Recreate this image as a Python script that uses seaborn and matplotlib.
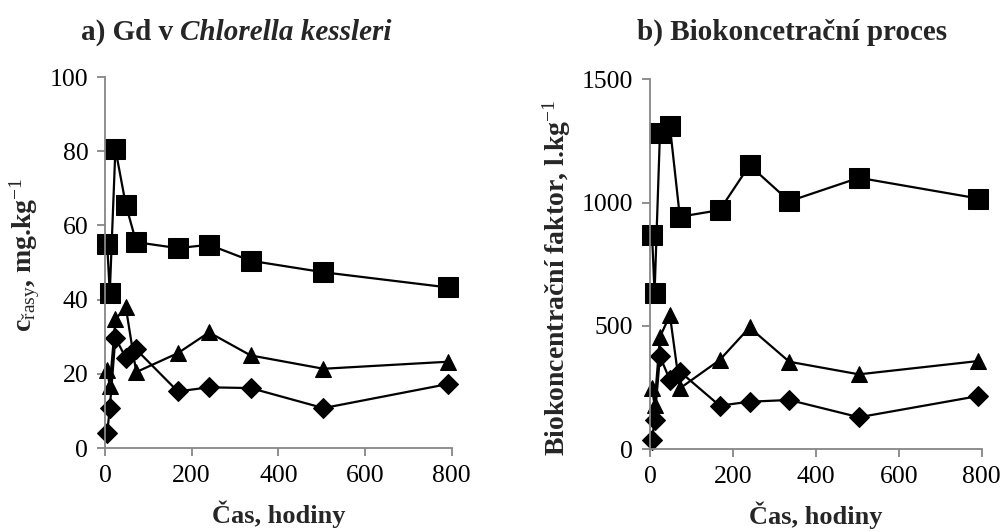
import matplotlib
matplotlib.use("Agg")
import matplotlib.pyplot as plt
import seaborn as sns
import pandas as pd

# ---- data ----
times = [5, 11, 24, 48, 72, 168, 240, 336, 504, 792]
left_sq = [55.0, 41.8, 80.6, 65.6, 55.5, 53.9, 54.8, 50.5, 47.4, 43.3]
left_tri = [21.2, 16.7, 34.7, 38.0, 20.5, 25.6, 31.2, 25.0, 21.4, 23.3]
left_dia = [4.0, 10.8, 29.8, 24.3, 26.6, 15.3, 16.4, 16.2, 10.8, 17.3]
right_sq = [869, 632, 1281, 1310, 943, 970, 1152, 1006, 1101, 1017]
right_tri = [247, 180, 456, 544, 247, 362, 494, 355, 304, 358]
right_dia = [38, 119, 377, 281, 315, 177, 193, 200, 130, 216]
x_ticks = [0, 200, 400, 600, 800]
left_yticks = [0, 20, 40, 60, 80, 100]
right_yticks = [0, 500, 1000, 1500]

sns.set_style("white")
plt.rcParams['font.family'] = ['Liberation Serif', 'DejaVu Serif']
plt.rcParams['mathtext.fontset'] = 'custom'
plt.rcParams['mathtext.rm'] = 'Liberation Serif'
plt.rcParams['mathtext.it'] = 'Liberation Serif:italic'
plt.rcParams['mathtext.bf'] = 'Liberation Serif:bold'

W, H = 1002, 532
fig = plt.figure(figsize=(W / 100, H / 100), dpi=100)
axL = fig.add_axes([105 / W, 1 - 448.2 / H, (451.7 - 105) / W, (448.2 - 77) / H])
axR = fig.add_axes([650 / W, 1 - 449.3 / H, (981.7 - 650) / W, (449.3 - 79.4) / H])

AX_GRAY = '#868686'

def draw(ax, sq, tri, dia):
    styles = [(sq, 's', 14.5), (tri, '^', 11), (dia, 'D', 10)]
    for vals, mk, ms in styles:
        df = pd.DataFrame({'t': times, 'v': vals})
        sns.lineplot(data=df, x='t', y='v', ax=ax, color='black', lw=1.6,
                     marker=mk, markersize=ms, markeredgecolor='black',
                     markerfacecolor='black', estimator=None, sort=False,
                     clip_on=False)
    for s in ['top', 'right']:
        ax.spines[s].set_visible(False)
    for s in ['left', 'bottom']:
        ax.spines[s].set_color(AX_GRAY)
        ax.spines[s].set_linewidth(1.3)
    ax.tick_params(axis='both', which='both', direction='out', length=6,
                   width=1.3, color=AX_GRAY, labelsize=18.5, labelcolor='black',
                   pad=6, left=True, bottom=True)
    ax.set_xlim(0, 800)
    ax.set_xticks(x_ticks)
    ax.set_xlabel('Čas, hodiny', fontsize=19, fontweight='bold', labelpad=10)

draw(axL, left_sq, left_tri, left_dia)
draw(axR, right_sq, right_tri, right_dia)

axL.set_ylim(0, 100)
axL.set_yticks(left_yticks)
axR.set_ylim(0, 1500)
axR.set_yticks(right_yticks)

axL.set_ylabel(r'c$_{\mathrm{řasy}}$, mg.kg$^{\mathrm{-1}}$', fontsize=20,
               fontweight='bold')
axR.set_ylabel(r'Biokoncentrační faktor, l.kg$^{\mathrm{-1}}$', fontsize=20,
               fontweight='bold')
axL.yaxis.set_label_coords((42 - 105) / 346.7, 0.52)
axR.yaxis.set_label_coords((573 - 650) / 331.7, 0.463)

# titles
def title(parts, xc, yc):
    fig.canvas.draw()
    r = fig.canvas.get_renderer()
    texts = []
    widths = []
    for s, style in parts:
        t = fig.text(0, yc, s, fontsize=21, fontweight='bold', fontstyle=style,
                     va='center', ha='left')
        bb = t.get_window_extent(renderer=r)
        texts.append(t)
        widths.append(bb.width)
    total = sum(widths)
    x = xc - total / 2
    for t, w in zip(texts, widths):
        t.set_x(x / W)
        x += w

title([('a) Gd v\u00a0', 'normal'), ('Chlorella kessleri', 'italic')], 236, 1 - 32 / H)
title([('b) Biokoncetrační proces', 'normal')], 792, 1 - 32 / H)

fig.savefig('out.png', dpi=100)
